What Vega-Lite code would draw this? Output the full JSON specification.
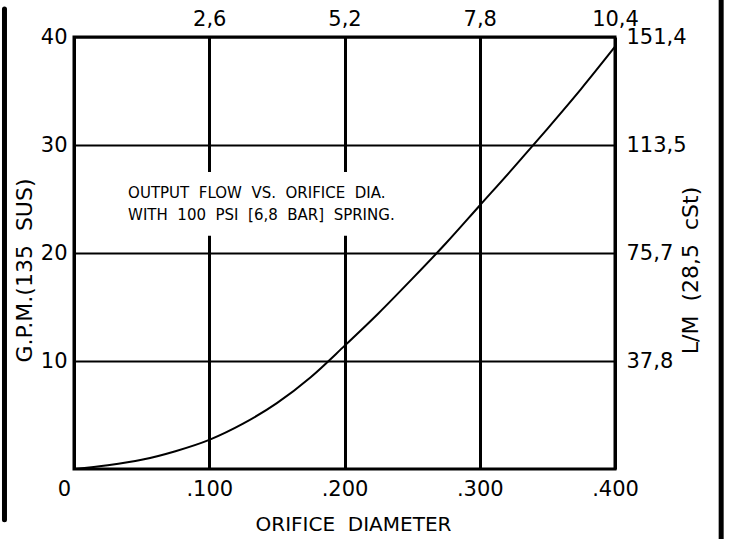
{
  "$schema": "https://vega.github.io/schema/vega-lite/v6.json",
  "width": 541,
  "height": 432,
  "autosize": "none",
  "padding": {"left": 74, "top": 37, "right": 114, "bottom": 70},
  "background": "white",
  "config": {
    "view": {"stroke": "black", "strokeWidth": 3},
    "font": "DejaVu Sans",
    "axis": {
      "labelFont": "DejaVu Sans",
      "titleFont": "DejaVu Sans",
      "labelColor": "black",
      "titleColor": "black",
      "labelFontSize": 21,
      "titleFontSize": 20,
      "titleFontWeight": "normal",
      "ticks": false,
      "domain": false,
      "labelFlush": false,
      "labelOverlap": false,
      "labelBound": false,
      "gridColor": "black",
      "gridOpacity": 1
    }
  },
  "datasets": {
    "curve": [
      {"x": 0, "y": 0},
      {"x": 0.025, "y": 0.35},
      {"x": 0.05, "y": 0.85},
      {"x": 0.075, "y": 1.65},
      {"x": 0.1, "y": 2.7},
      {"x": 0.125, "y": 4.2},
      {"x": 0.15, "y": 6.1},
      {"x": 0.175, "y": 8.5},
      {"x": 0.2, "y": 11.4},
      {"x": 0.225, "y": 14.4},
      {"x": 0.25, "y": 17.6},
      {"x": 0.275, "y": 20.9},
      {"x": 0.3, "y": 24.4},
      {"x": 0.325, "y": 27.9},
      {"x": 0.35, "y": 31.5},
      {"x": 0.375, "y": 35.2},
      {"x": 0.4, "y": 39.1}
    ],
    "note": [
      {"x": 0.040, "y": 25.55, "text": "OUTPUT\u00a0 FLOW\u00a0 VS.\u00a0 ORIFICE\u00a0 DIA."},
      {"x": 0.040, "y": 23.5, "text": "WITH\u00a0 100\u00a0 PSI\u00a0 [6,8\u00a0 BAR]\u00a0 SPRING."}
    ],
    "gap": [{"x": 0.03, "x2": 0.245, "y": 21.6, "y2": 27.5}],
    "bars": [
      {"x": -0.0514, "y": 42.6, "y2": -4.7},
      {"x": 0.4785, "y": 43.6, "y2": -6.6}
    ]
  },
  "resolve": {"axis": {"x": "independent", "y": "independent"}},
  "layer": [
    {
      "data": {"name": "curve"},
      "mark": {"type": "line", "color": "black", "strokeWidth": 2, "interpolate": "monotone"},
      "encoding": {
        "x": {
          "field": "x", "type": "quantitative",
          "scale": {"domain": [0, 0.4], "nice": false, "zero": false},
          "axis": {
            "orient": "bottom",
            "values": [0, 0.1, 0.2, 0.3, 0.4],
            "labelExpr": "datum.value == 0 ? '0' : replace(format(datum.value, '.3f'), '0.', '.')",
            "labelOffset": {"expr": "datum.value == 0 ? -10 : 0"},
            "labelPadding": 9,
            "grid": true,
            "gridWidth": 3,
            "title": "ORIFICE\u00a0 DIAMETER",
            "titleX": 279,
            "titleY": 61,
            "titleAlign": "center",
            "titleBaseline": "alphabetic"
          }
        },
        "y": {
          "field": "y", "type": "quantitative",
          "scale": {"domain": [0, 40], "nice": false, "zero": false},
          "axis": {
            "orient": "left",
            "values": [10, 20, 30, 40],
            "labelPadding": 7,
            "grid": true,
            "gridWidth": 2,
            "title": "G.P.M.(135\u00a0 SUS)",
            "titleFontSize": 22,
            "titleAngle": 270,
            "titleX": -50,
            "titleY": 233,
            "titleAlign": "center",
            "titleBaseline": "middle"
          }
        }
      }
    },
    {
      "data": {"name": "gap"},
      "mark": {"type": "rect", "color": "white"},
      "encoding": {
        "x": {"field": "x", "type": "quantitative", "scale": {"domain": [0, 0.4], "nice": false, "zero": false}, "axis": null},
        "x2": {"field": "x2"},
        "y": {"field": "y", "type": "quantitative", "scale": {"domain": [0, 40], "nice": false, "zero": false}, "axis": null},
        "y2": {"field": "y2"}
      }
    },
    {
      "data": {"name": "note"},
      "mark": {"type": "text", "align": "left", "baseline": "middle", "font": "DejaVu Sans", "fontSize": 15, "color": "black"},
      "encoding": {
        "x": {
          "field": "x", "type": "quantitative",
          "scale": {"domain": [0, 0.4], "nice": false, "zero": false},
          "axis": {
            "orient": "top",
            "values": [0.1, 0.2, 0.3, 0.4],
            "labelExpr": "replace(format(datum.value * 26, '.1f'), '.', ',')",
            "labelPadding": 8,
            "grid": false,
            "title": null
          }
        },
        "y": {
          "field": "y", "type": "quantitative",
          "scale": {"domain": [0, 40], "nice": false, "zero": false},
          "axis": {
            "orient": "right",
            "values": [10, 20, 30, 40],
            "labelExpr": "datum.value == 10 ? '37,8' : datum.value == 20 ? '75,7' : datum.value == 30 ? '113,5' : '151,4'",
            "labelAlign": "left",
            "labelPadding": 11,
            "grid": false,
            "title": "L/M\u00a0 (28,5\u00a0 cSt)",
            "titleFontSize": 22,
            "titleAngle": 270,
            "titleX": 75,
            "titleY": 233,
            "titleAlign": "center",
            "titleBaseline": "middle"
          }
        },
        "text": {"field": "text"}
      }
    },
    {
      "data": {"name": "bars"},
      "mark": {"type": "rule", "color": "black", "strokeWidth": 5, "strokeCap": "round"},
      "encoding": {
        "x": {"field": "x", "type": "quantitative", "scale": {"domain": [0, 0.4], "nice": false, "zero": false}, "axis": null},
        "y": {"field": "y", "type": "quantitative", "scale": {"domain": [0, 40], "nice": false, "zero": false}, "axis": null},
        "y2": {"field": "y2"}
      }
    }
  ]
}
